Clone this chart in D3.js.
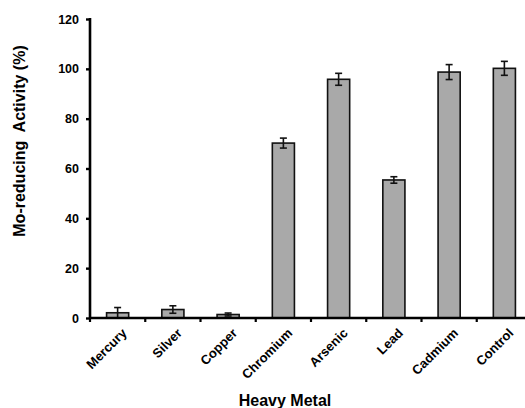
<!DOCTYPE html>
<html><head><meta charset="utf-8">
<script src="https://cdn.jsdelivr.net/npm/d3@7"></script>
<style>body{margin:0;background:#fff}svg{display:block}text{font-family:Arial,"Liberation Sans",sans-serif;font-weight:bold;fill:#000}</style>
</head><body>
<svg id="c" width="525" height="408"></svg>
<script>
const categories = ["Mercury","Silver","Copper","Chromium","Arsenic","Lead","Cadmium","Control"];
const values = [2.1, 3.4, 1.4, 70.2, 95.8, 55.4, 98.7, 100.2];
const errors = [2.1, 1.5, 0.6, 2.0, 2.4, 1.3, 3.0, 2.8];
const yTicks = [0, 20, 40, 60, 80, 100, 120];

const svg = d3.select("#c");
const x = d3.scaleBand().domain(categories).range([90, 532]).paddingInner(0.6).paddingOuter(0.3);
const y = d3.scaleLinear().domain([0, 120]).range([318, 19]);
const bw = x.bandwidth();

// bars
svg.append("g").selectAll("rect").data(categories).join("rect")
  .attr("x", d => x(d)).attr("width", bw)
  .attr("y", (d,i) => y(values[i])).attr("height", (d,i) => y(0) - y(values[i]))
  .attr("fill", "#a9a9a9").attr("stroke", "#111").attr("stroke-width", 1.6);

// error bars
const eg = svg.append("g").attr("stroke", "#111").attr("stroke-width", 1.6);
categories.forEach((c, i) => {
  const cx = x(c) + bw / 2;
  const lo = Math.max(0, values[i] - errors[i]), hi = values[i] + errors[i];
  eg.append("line").attr("x1", cx).attr("x2", cx).attr("y1", y(lo)).attr("y2", y(hi));
  eg.append("line").attr("x1", cx - 3.5).attr("x2", cx + 3.5).attr("y1", y(hi)).attr("y2", y(hi));
  eg.append("line").attr("x1", cx - 3.5).attr("x2", cx + 3.5).attr("y1", y(lo)).attr("y2", y(lo));
});

// y axis
const ya = svg.append("g").attr("transform", "translate(90,0)")
  .call(d3.axisLeft(y).tickValues(yTicks).tickSize(4).tickPadding(7));
ya.select(".domain").attr("stroke", "#000").attr("stroke-width", 2.6).attr("d", `M0,${y(120)-1}V${y(0)+1}`);
ya.selectAll(".tick line").attr("stroke-width", 2.4);
ya.selectAll(".tick text").style("font-size", "12.5px").style("font-weight", "bold").style("font-family", "Arial, 'Liberation Sans', sans-serif");

// x axis
const bounds = categories.map(c => x(c) - x.step() * x.paddingInner() / 2);
bounds.push(532);
const xg = svg.append("g");
xg.append("line").attr("x1", 89).attr("x2", 532).attr("y1", y(0)).attr("y2", y(0)).attr("stroke", "#000").attr("stroke-width", 2.6);
xg.selectAll("line.t").data(bounds).join("line").attr("class", "t")
  .attr("x1", d => d).attr("x2", d => d).attr("y1", y(0)).attr("y2", y(0) + 4)
  .attr("stroke", "#000").attr("stroke-width", 2.2);
xg.selectAll("text").data(categories).join("text")
  .attr("transform", d => `translate(${x(d) + bw/2 + 3},${y(0) + 9}) rotate(-45)`)
  .attr("text-anchor", "end").attr("dy", "0.75em").style("font-size", "13px").text(d => d);

// axis titles
svg.append("text").attr("transform", "translate(25,141) rotate(-90)").attr("text-anchor", "middle")
  .style("font-size", "16px").style("white-space", "pre").text("Mo-reducing  Activity (%)");
svg.append("text").attr("x", 285).attr("y", 406).attr("text-anchor", "middle")
  .style("font-size", "16px").text("Heavy Metal");
</script>
</body></html>
